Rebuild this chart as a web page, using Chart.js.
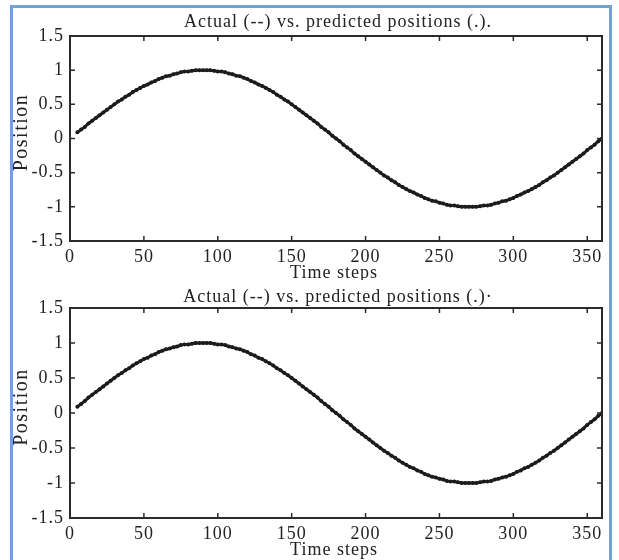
<!DOCTYPE html>
<html>
<head>
<meta charset="utf-8">
<script src="https://cdn.jsdelivr.net/npm/chart.js@4.4.1/dist/chart.umd.min.js"></script>
<style>
    html, body { margin: 0; padding: 0; background: #fff; }
    #page { position: relative; width: 619px; height: 560px; overflow: hidden; }
    #frame {
        position: absolute; left: 10px; top: 5px; width: 596px; height: 560px;
        border: 3px solid #6ea4d8; border-bottom: none;
    }
    canvas { position: absolute; left: 0; }
</style>
</head>
<body>
<div id="page">
    <div id="frame"></div>
    <canvas id="topChart" width="619" height="280" style="top:0"></canvas>
    <canvas id="bottomChart" width="619" height="280" style="top:280px"></canvas>
</div>
<script>
// time steps (x) and positions (y)
var timeSteps = [
    5, 7.5, 10, 12.5, 15, 17.5, 20, 22.5, 25, 27.5, 30, 32.5, 35, 37.5, 40, 42.5, 45, 47.5, 50, 52.5, 55, 57.5, 60, 62.5, 65, 67.5, 70, 72.5, 75, 77.5, 80, 82.5, 85, 87.5, 90,
    92.5, 95, 97.5, 100, 102.5, 105, 107.5, 110, 112.5, 115, 117.5, 120, 122.5, 125, 127.5, 130, 132.5, 135, 137.5, 140, 142.5, 145, 147.5, 150, 152.5, 155, 157.5, 160, 162.5, 165, 167.5, 170, 172.5, 175, 177.5, 180,
    182.5, 185, 187.5, 190, 192.5, 195, 197.5, 200, 202.5, 205, 207.5, 210, 212.5, 215, 217.5, 220, 222.5, 225, 227.5, 230, 232.5, 235, 237.5, 240, 242.5, 245, 247.5, 250, 252.5, 255, 257.5, 260, 262.5, 265, 267.5, 270,
    272.5, 275, 277.5, 280, 282.5, 285, 287.5, 290, 292.5, 295, 297.5, 300, 302.5, 305, 307.5, 310, 312.5, 315, 317.5, 320, 322.5, 325, 327.5, 330, 332.5, 335, 337.5, 340, 342.5, 345, 347.5, 350, 352.5, 355, 357.5, 360,
];

var positions = [
    0.09, 0.13, 0.17, 0.22, 0.26, 0.30, 0.34, 0.38, 0.42, 0.46, 0.50, 0.54, 0.57, 0.61, 0.64, 0.68, 0.71, 0.74, 0.77, 0.79, 0.82, 0.84, 0.87, 0.89, 0.91, 0.92, 0.94, 0.95, 0.97, 0.98, 0.98, 0.99, 1.00, 1.00, 1.00,
    1.00, 1.00, 0.99, 0.98, 0.98, 0.97, 0.95, 0.94, 0.92, 0.91, 0.89, 0.87, 0.84, 0.82, 0.79, 0.77, 0.74, 0.71, 0.68, 0.64, 0.61, 0.57, 0.54, 0.50, 0.46, 0.42, 0.38, 0.34, 0.30, 0.26, 0.22, 0.17, 0.13, 0.09, 0.04, 0.00,
    -0.04, -0.09, -0.13, -0.17, -0.22, -0.26, -0.30, -0.34, -0.38, -0.42, -0.46, -0.50, -0.54, -0.57, -0.61, -0.64, -0.68, -0.71, -0.74, -0.77, -0.79, -0.82, -0.84, -0.87, -0.89, -0.91, -0.92, -0.94, -0.95, -0.97, -0.98, -0.98, -0.99, -1.00, -1.00, -1.00,
    -1.00, -1.00, -0.99, -0.98, -0.98, -0.97, -0.95, -0.94, -0.92, -0.91, -0.89, -0.87, -0.84, -0.82, -0.79, -0.77, -0.74, -0.71, -0.68, -0.64, -0.61, -0.57, -0.54, -0.50, -0.46, -0.42, -0.38, -0.34, -0.30, -0.26, -0.22, -0.17, -0.13, -0.09, -0.04, 0.00,
];

var xTickValues = [0, 50, 100, 150, 200, 250, 300, 350];
var yTickValues = [-1.5, -1, -0.5, 0, 0.5, 1, 1.5];

var chartTitles = [
    'Actual (--) vs. predicted positions (.).',
    'Actual (--) vs. predicted positions (.)\u00b7',
];
var xLabel = 'Time steps';
var yLabel = 'Position';

var serif = '"Liberation Serif", "DejaVu Serif", serif';
var inkColor = '#222';

// draws the matlab style box, inward ticks and the texts
var matlabFrame = {
    id: 'matlabFrame',
    beforeDraw: function (chart) {
        // the scanned figure has wide letter spacing
        chart.ctx.letterSpacing = '1px';
    },
    afterDraw: function (chart, args, opts) {
        var ctx = chart.ctx;
        var area = chart.chartArea;
        var xs = chart.scales.x;
        var ys = chart.scales.y;
        var tick = 5;

        ctx.save();
        ctx.strokeStyle = '#2b2b2b';
        ctx.lineWidth = 2;
        ctx.strokeRect(area.left, area.top, area.right - area.left, area.bottom - area.top);

        ctx.lineWidth = 1.5;
        ctx.beginPath();
        xTickValues.forEach(function (v) {
            var px = xs.getPixelForValue(v);
            ctx.moveTo(px, area.bottom);
            ctx.lineTo(px, area.bottom - tick);
            ctx.moveTo(px, area.top);
            ctx.lineTo(px, area.top + tick);
        });
        yTickValues.forEach(function (v) {
            var py = ys.getPixelForValue(v);
            ctx.moveTo(area.left, py);
            ctx.lineTo(area.left + tick, py);
            ctx.moveTo(area.right, py);
            ctx.lineTo(area.right - tick, py);
        });
        ctx.stroke();

        ctx.fillStyle = inkColor;
        ctx.font = '18px ' + serif;
        ctx.letterSpacing = '1px';
        ctx.textAlign = 'center';
        ctx.textBaseline = 'middle';
        var cx = (area.left + area.right) / 2 + 2;
        ctx.fillText(opts.title, cx, opts.titleY);
        ctx.fillText(xLabel, cx - 4, opts.xLabelY);

        ctx.font = '20px ' + serif;
        ctx.letterSpacing = '1.5px';
        ctx.translate(22, (area.top + area.bottom) / 2 - 6);
        ctx.rotate(-Math.PI / 2);
        ctx.fillText(yLabel, 0, 0);
        ctx.restore();
    },
};

function makeChart(canvasId, title, layout) {
    var points = timeSteps.map(function (t, i) {
        return { x: t, y: positions[i] };
    });

    return new Chart(document.getElementById(canvasId), {
        type: 'line',
        data: {
            datasets: [
                {
                    // actual (--)
                    data: points,
                    borderColor: '#1c1c1c',
                    borderWidth: 3,
                    pointRadius: 0,
                    tension: 0,
                },
                {
                    // predicted (.)
                    data: points,
                    showLine: false,
                    pointRadius: 2,
                    pointBackgroundColor: '#111',
                    pointBorderWidth: 0,
                },
            ],
        },
        options: {
            responsive: false,
            animation: false,
            layout: {
                padding: { left: 0, right: 17, top: layout.top, bottom: 0 },
            },
            scales: {
                x: {
                    type: 'linear',
                    min: 0,
                    max: 360,
                    afterBuildTicks: function (scale) {
                        scale.ticks = xTickValues.map(function (v) {
                            return { value: v };
                        });
                    },
                    afterFit: function (scale) {
                        scale.height = layout.xHeight;
                    },
                    ticks: {
                        color: inkColor,
                        font: { family: serif, size: 18 },
                        padding: 5,
                        maxRotation: 0,
                        autoSkip: false,
                        callback: function (value) {
                            return String(value);
                        },
                    },
                    grid: { display: false, drawTicks: false },
                    border: { display: false },
                },
                y: {
                    min: -1.5,
                    max: 1.5,
                    afterBuildTicks: function (scale) {
                        scale.ticks = yTickValues.map(function (v) {
                            return { value: v };
                        });
                    },
                    afterFit: function (scale) {
                        scale.width = 70;
                    },
                    ticks: {
                        color: inkColor,
                        font: { family: serif, size: 18 },
                        padding: 6,
                        callback: function (value) {
                            return String(value);
                        },
                    },
                    grid: { display: false, drawTicks: false },
                    border: { display: false },
                },
            },
            plugins: {
                legend: { display: false },
                tooltip: { enabled: false },
                matlabFrame: {
                    title: title,
                    titleY: layout.titleY,
                    xLabelY: layout.xLabelY,
                },
            },
        },
        plugins: [matlabFrame],
    });
}

makeChart('topChart', chartTitles[0], { top: 36, xHeight: 39, titleY: 22, xLabelY: 273 });
makeChart('bottomChart', chartTitles[1], { top: 28, xHeight: 42, titleY: 17, xLabelY: 270 });
</script>
</body>
</html>
